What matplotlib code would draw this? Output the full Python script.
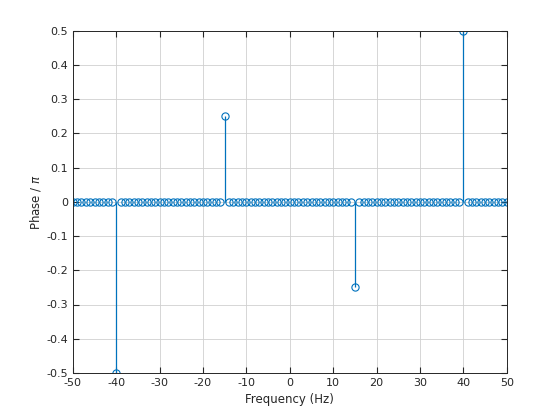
import numpy as np
import matplotlib
matplotlib.use("Agg")
import matplotlib.pyplot as plt
from matplotlib.ticker import FuncFormatter

plt.rcParams['axes.unicode_minus'] = False

# frequency bins (Hz) and phase / pi at each bin
freq = np.arange(-50, 51, 1)
peak_freqs = [-40, -15, 15, 40]
peak_phases = [-0.5, 0.25, -0.25, 0.5]

phase = np.zeros(len(freq))
for f, p in zip(peak_freqs, peak_phases):
    phase[freq == f] = p

blue = '#0072BD'

fig = plt.figure(figsize=(5.6, 4.2), dpi=100)
ax = fig.add_axes([0.13, 0.112, 0.775, 0.815])

ax.vlines(freq, 0, phase, color=blue, lw=0.9)
ax.plot(freq, phase, 'o', mfc='none', mec=blue, ms=5.2, mew=0.8)

ax.set_xlim(-50, 50)
ax.set_ylim(-0.5, 0.5)
ax.set_xticks(np.arange(-50, 51, 10))
ax.set_yticks(np.round(np.arange(-0.5, 0.51, 0.1), 1))
ax.yaxis.set_major_formatter(FuncFormatter(lambda v, pos: "0" if abs(v) < 1e-9 else f"{v:g}"))
ax.grid(True, color='#d0d0d0', lw=0.6)
ax.set_axisbelow(True)
ax.tick_params(direction='in', length=4, labelsize=8, colors='#262626',
               top=True, right=True)
for s in ax.spines.values():
    s.set_color('#262626')
    s.set_linewidth(0.7)

ax.set_xlabel("Frequency (Hz)", fontsize=8.5, color='#262626')
ax.set_ylabel(r"Phase / $\pi$", fontsize=8.5, color='#262626', labelpad=2)

fig.savefig("out.png", dpi=100)
